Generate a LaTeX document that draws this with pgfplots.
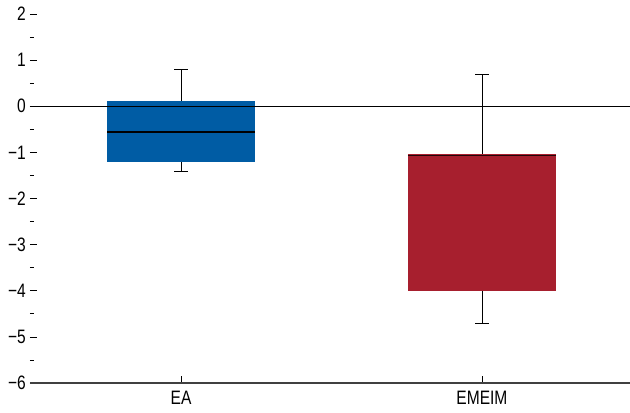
\documentclass[border=0pt]{standalone}
\usepackage{pgfplots}
\pgfplotsset{compat=1.18}
\usepgfplotslibrary{statistics}
\usepackage{fontspec}
\setmainfont{Liberation Sans}[FakeStretch=0.8]
\definecolor{eablue}{RGB}{0,92,164}
\definecolor{emred}{RGB}{167,31,46}
\begin{document}
\begin{tikzpicture}
\path[use as bounding box] (-30bp,-30bp) rectangle (600bp,383bp);
\begin{axis}[
  scale only axis, width=600bp, height=369bp,
  xmin=-0.502, xmax=1.492, ymin=-6, ymax=2,
  axis line style={draw=none},
  xtick pos=bottom, ytick pos=left, tick align=inside,
  tick style={draw=black, line width=0.7pt},
  xtick={0,1}, xticklabels={EA,EMEIM},
  ytick={-6,-5,...,2},
  yticklabels={−6,−5,−4,−3,−2,−1,0,1,2},
  minor y tick num=1,
  major tick length=7bp, minor tick length=4bp,
  ticklabel style={font=\fontsize{19.5}{21}\selectfont},
  yticklabel style={inner sep=1pt, xshift=-3bp},
  xticklabel style={yshift=-5bp},
  boxplot/draw direction=y,
  clip=false,
]
\addplot[boxplot prepared={lower whisker=-1.41, lower quartile=-1.21, median=-0.56,
    upper quartile=0.11, upper whisker=0.80, draw position=0,
    box extend=0.492, whisker extend=0.044},
  black, line width=0.8pt,
  boxplot/every box/.style={fill=eablue, draw=none},
  boxplot/every median/.style={black, line width=1.2pt}] coordinates {};
\addplot[boxplot prepared={lower whisker=-4.70, lower quartile=-4.00, median=-1.06,
    upper quartile=-1.04, upper whisker=0.68, draw position=1,
    box extend=0.492, whisker extend=0.044},
  black, line width=0.8pt,
  boxplot/every box/.style={fill=emred, draw=none},
  boxplot/every median/.style={black!80!emred, line width=1.2pt}] coordinates {};
\addplot[black, line width=0.8pt] coordinates {(-0.502,0) (1.492,0)};
\draw[black!75, line width=1.2pt] (rel axis cs:0,0) -- (rel axis cs:1,0);
\end{axis}
\end{tikzpicture}
\end{document}
